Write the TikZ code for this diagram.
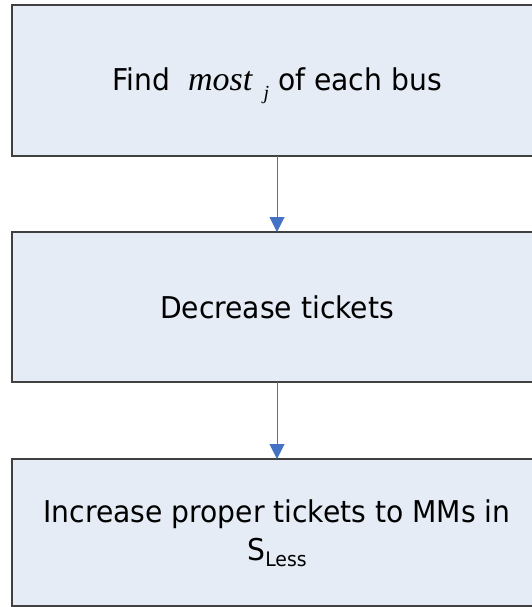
\documentclass[tikz,border=0pt]{standalone}
\usepackage{fontspec}
\setmainfont{DejaVu Sans}[FakeStretch=0.94]
\newfontfamily\mathserif{Liberation Serif}
\usetikzlibrary{arrows.meta}
\definecolor{boxfill}{HTML}{E6ECF6}
\definecolor{boxline}{HTML}{404040}
\definecolor{flowblue}{HTML}{4472C4}
\tikzset{
  stepbox/.style={draw=boxline, line width=1.3pt, fill=boxfill},
  flow/.style={draw=flowblue, line width=1pt, -{Triangle[length=15pt,width=15pt]}},
  label/.style={font=\fontsize{30pt}{38pt}\selectfont, align=center, inner sep=0pt}
}
\begin{document}
\begin{tikzpicture}[x=1pt,y=-1pt]
  \useasboundingbox (0,0) rectangle (531,607);
  % three process boxes (they run past the right edge)
  \draw[stepbox] (12,5) rectangle (542,156);
  \draw[stepbox] (12,232) rectangle (542,382);
  \draw[stepbox] (12,459) rectangle (542,606);
  \coordinate (b1s) at (277,156);
  \coordinate (b2n) at (277,232);
  \coordinate (b2s) at (277,382);
  \coordinate (b3n) at (277,459);
  \node[label, anchor=base] (t1) at (277,91) {Find\ \ {\mathserif\itshape\fontsize{34pt}{38pt}\selectfont most\,\,\raisebox{-9pt}{\fontsize{20pt}{20pt}\selectfont j}}\ of each bus};
  \node[label, anchor=base] (t2) at (277,318) {Decrease tickets};
  \node[label] (t3) at (277,533) {Increase proper tickets to MMs in\\S\raisebox{-6pt}{\fontsize{20pt}{20pt}\selectfont Less}};
  % connectors
  \draw[flow] (b1s) -- (b2n);
  \draw[flow] (b2s) -- (b3n);
\end{tikzpicture}
\end{document}
